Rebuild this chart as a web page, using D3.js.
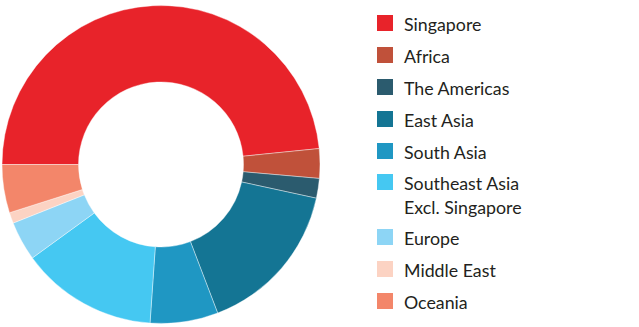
<!DOCTYPE html>
<html>
<head>
<meta charset="utf-8">
<script src="https://cdn.jsdelivr.net/npm/d3@7"></script>
<style>
  body { margin: 0; background: #fff; }
  text { font-family: "Lato", "Open Sans", sans-serif; fill: #231f20; }
</style>
</head>
<body>
<script>
var WIDTH = 639,
    HEIGHT = 327;

// regions in drawing order (clockwise from 9 o'clock)
var regions = ["Singapore", "Africa", "The Americas", "East Asia", "South Asia",
  "Southeast Asia\nExcl. Singapore", "Europe", "Middle East", "Oceania"];
var shares = [48.4, 3.0, 2.0, 15.8, 6.9, 13.9, 4.0, 1.1, 4.9];
var colors = ["#e8232a", "#c0513a", "#2b5b6e", "#147594", "#1f97c3",
  "#45c8f2", "#8dd5f5", "#fcd3c3", "#f3866a"];

var data = regions.map(function(r, i){ return {name: r, value: shares[i], color: colors[i]}; });

var svg = d3.select("body").append("svg")
    .attr("width", WIDTH)
    .attr("height", HEIGHT);

var cx = 161, cy = 164.5;

var pie = d3.pie()
    .sort(null)
    .value(function(d){ return d.value; })
    .startAngle(-Math.PI / 2)
    .endAngle(3 * Math.PI / 2);

var arc = d3.arc()
    .innerRadius(82.5)
    .outerRadius(159);

svg.append("g")
    .attr("transform", "translate(" + cx + "," + cy + ")")
  .selectAll("path")
  .data(pie(data))
  .enter().append("path")
    .attr("d", arc)
    .attr("fill", function(d){ return d.data.color; })
    .attr("stroke", "#fff")
    .attr("stroke-width", 0.4);

// legend
var rowY = [15, 47, 79, 111, 143, 174, 229, 261, 293];

var legend = svg.append("g").selectAll("g")
  .data(data)
  .enter().append("g")
    .attr("transform", function(d, i){ return "translate(377," + rowY[i] + ")"; });

legend.append("rect")
    .attr("width", 16)
    .attr("height", 16)
    .attr("fill", function(d){ return d.color; });

legend.append("text")
    .attr("x", 27)
    .attr("y", 16)
    .style("font-size", "17.8px")
    .selectAll("tspan")
    .data(function(d){ return d.name.split("\n"); })
    .enter().append("tspan")
      .attr("x", 27)
      .attr("dy", function(d, i){ return i ? 23.5 : 0; })
      .text(function(d){ return d; });
</script>
</body>
</html>
